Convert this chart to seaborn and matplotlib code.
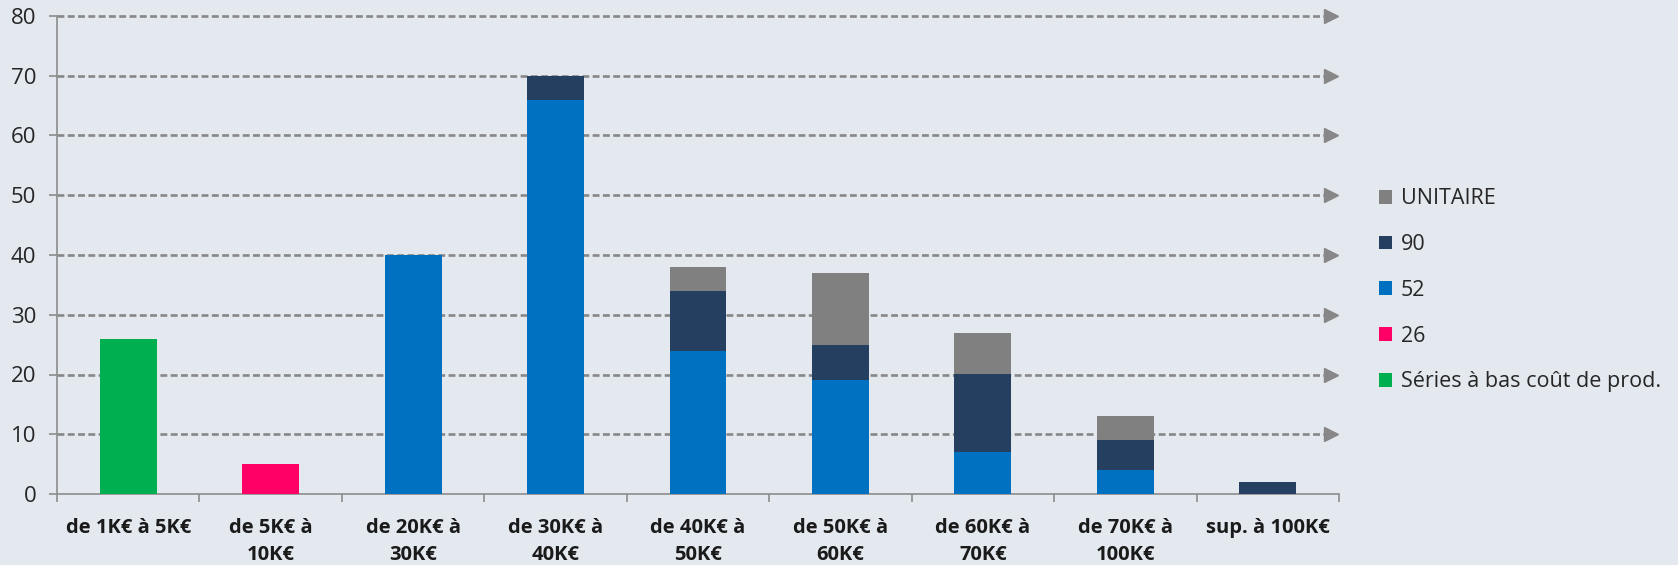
import numpy as np
import seaborn as sns
import matplotlib.pyplot as plt
from matplotlib.patches import Patch
import matplotlib.ticker as ticker

categories = ["de 1K€ à 5K€", "de 5K€ à\n10K€", "de 20K€ à\n30K€", "de 30K€ à\n40K€",
              "de 40K€ à\n50K€", "de 50K€ à\n60K€", "de 60K€ à\n70K€", "de 70K€ à\n100K€",
              "sup. à 100K€"]
bas_cout = [26, 0, 0, 0, 0, 0, 0, 0, 0]
serie_26 = [0, 5, 0, 0, 0, 0, 0, 0, 0]
serie_52 = [0, 0, 40, 66, 24, 19, 7, 4, 0]
serie_90 = [0, 0, 0, 4, 10, 6, 13, 5, 2]
unitaire = [0, 0, 0, 0, 4, 12, 7, 4, 0]
y_ticks = [0, 10, 20, 30, 40, 50, 60, 70, 80]

series_names = ["Séries à bas coût de prod.", "26", "52", "90", "UNITAIRE"]
series_colors = ["#00B050", "#FF0066", "#0070C0", "#243F60", "#808080"]

bg = "#E4E8EF"
grid_col = "#878787"

sns.set_theme(style="white")
plt.rcParams["font.family"] = ["Open Sans", "DejaVu Sans"]

f, ax = plt.subplots(figsize=(16.78, 5.65), dpi=100)
f.patch.set_facecolor(bg)
ax.set_facecolor(bg)
f.subplots_adjust(left=57 / 1678, right=1339 / 1678, top=1 - 16 / 565, bottom=1 - 494 / 565)

# stacked bars, bottom to top
bottom = np.zeros(len(categories))
for vals, col in zip([bas_cout, serie_26, serie_52, serie_90, unitaire], series_colors):
    sns.barplot(x=categories, y=vals, bottom=bottom, color=col, width=0.4, saturation=1,
                errorbar=None, linewidth=0, ax=ax, zorder=3)
    bottom = bottom + np.array(vals)

ax.set_xlim(-0.5, len(categories) - 0.5)
ax.set_ylim(0, 80)

# dashed grid with arrow heads
for y in y_ticks[1:]:
    ax.plot([-0.5, 8.4], [y, y], color=grid_col, lw=1.9, dashes=(2.6, 1.3),
            clip_on=False, zorder=1)
    ax.plot([8.447], [y], marker=">", color=grid_col, markersize=10, clip_on=False, zorder=1)

sns.despine(ax=ax, top=True, right=True)
for s in ["left", "bottom"]:
    ax.spines[s].set_color("#8C8C8C")
    ax.spines[s].set_linewidth(1.2)

ax.yaxis.set_major_locator(ticker.FixedLocator(y_ticks))
ax.tick_params(axis="y", direction="out", length=6, width=1.2, color="#8C8C8C",
               pad=9, labelsize=16, labelcolor="#262626", left=True)
ax.xaxis.set_minor_locator(ticker.FixedLocator(np.arange(-0.5, len(categories), 1)))
ax.tick_params(axis="x", which="minor", direction="out", length=6, width=1.2,
               color="#8C8C8C", bottom=True)
ax.tick_params(axis="x", which="major", length=0, pad=17, labelsize=14.5, labelcolor="#1a1a1a")
for lab in ax.get_xticklabels():
    lab.set_fontweight("bold")
    lab.set_linespacing(1.5)
ax.set_xlabel("")
ax.set_ylabel("")

handles = [Patch(facecolor=c, edgecolor="none") for c in series_colors][::-1]
ax.legend(handles, series_names[::-1], loc="center left", bbox_to_anchor=(0.822, 0.486),
          bbox_transform=f.transFigure, frameon=False, fontsize=15.5, handlelength=0.6,
          handleheight=0.6, handletextpad=0.4, labelspacing=1.15, borderpad=0,
          borderaxespad=0, labelcolor="#262626")

plt.savefig("out.png", facecolor=bg)
plt.close(f)
